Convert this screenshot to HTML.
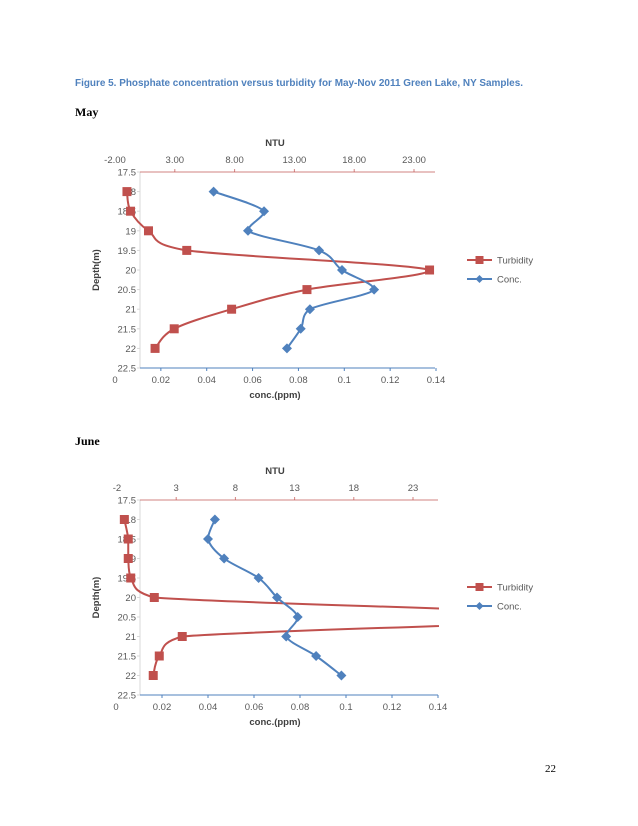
<!DOCTYPE html>
<html><head><meta charset="utf-8">
<style>
html,body{margin:0;padding:0;background:#fff;}
body{width:638px;height:826px;position:relative;overflow:hidden;}
svg{position:absolute;left:0;top:0;}
</style></head>
<body>
<svg id="page" width="638" height="826" viewBox="0 0 638 826" xmlns="http://www.w3.org/2000/svg">
  <text x="75" y="86" font-family="Liberation Sans, sans-serif" font-size="10.5" font-weight="bold" fill="#4f81bd" textLength="448" lengthAdjust="spacingAndGlyphs">Figure 5. Phosphate concentration versus turbidity for May-Nov 2011 Green Lake, NY Samples.</text>
  <text x="75" y="116" font-family="Liberation Serif, serif" font-size="12" font-weight="bold" fill="#000">May</text>
  <text x="75" y="445" font-family="Liberation Serif, serif" font-size="12" font-weight="bold" fill="#000">June</text>
  <text x="545" y="772" font-family="Liberation Serif, serif" font-size="11" fill="#000">22</text>
  <g id="chart-may"></g>
  <g id="chart-june"></g>
</svg>
<script>
// Shared axes data
const depthTicks = [17.5, 18, 18.5, 19, 19.5, 20, 20.5, 21, 21.5, 22, 22.5];
const concTicks = [0, 0.02, 0.04, 0.06, 0.08, 0.1, 0.12, 0.14];
const depths = [18, 18.5, 19, 19.5, 20, 20.5, 21, 21.5, 22];

// May
const mayConc = [0.043, 0.065, 0.058, 0.089, 0.099, 0.113, 0.085, 0.081, 0.075];
const mayTurb = [-1.0, -0.7, 0.8, 4.0, 24.3, 14.05, 7.75, 2.95, 1.35];
const mayNtuTicks = [-2, 3, 8, 13, 18, 23];
const mayNtuLabels = ["-2.00", "3.00", "8.00", "13.00", "18.00", "23.00"];

// June
const juneConc = [0.043, 0.040, 0.047, 0.062, 0.070, 0.079, 0.074, 0.087, 0.098];
const juneTurb = [-1.38, -1.05, -1.05, -0.84, 1.15, 38.5, 3.51, 1.57, 1.06];
const juneNtuTicks = [-2, 3, 8, 13, 18, 23];
const juneNtuLabels = ["-2", "3", "8", "13", "18", "23"];

const NS = "http://www.w3.org/2000/svg";
const RED = "#c0504d", BLUE = "#4f81bd", GRAY = "#595959";
function mk(tag, attrs, parent) {
  const e = document.createElementNS(NS, tag);
  for (const k in attrs) e.setAttribute(k, attrs[k]);
  parent.appendChild(e);
  return e;
}
function clampX(x, a, b) { return Math.max(Math.min(a, b), Math.min(Math.max(a, b), x)); }
function smoothPath(pts) {
  let d = "M" + pts[0][0] + "," + pts[0][1];
  for (let i = 0; i < pts.length - 1; i++) {
    const p0 = pts[i - 1] || pts[i], p1 = pts[i], p2 = pts[i + 1], p3 = pts[i + 2] || p2;
    const t = 6;
    const c1 = [clampX(p1[0] + (p2[0] - p0[0]) / t, p1[0], p2[0]), p1[1] + (p2[1] - p0[1]) / t];
    const c2 = [clampX(p2[0] - (p3[0] - p1[0]) / t, p1[0], p2[0]), p2[1] - (p3[1] - p1[1]) / t];
    d += " C" + c1[0] + "," + c1[1] + " " + c2[0] + "," + c2[1] + " " + p2[0] + "," + p2[1];
  }
  return d;
}
function drawChart(g, id, cfg, conc, turb, ntuTicks, ntuLabels) {
  const yS = v => cfg.top + (v - 17.5) / 5 * (cfg.bottom - cfg.top);
  const xC = v => cfg.c0 + v / 0.14 * (cfg.c14 - cfg.c0);
  const xN = v => cfg.n0 + (v + 2) / 5 * cfg.n5;
  const font = "Liberation Sans, sans-serif";
  const cp = mk("clipPath", {id: id + "-clip"}, g);
  mk("rect", {x: 100, y: cfg.top - 2, width: cfg.right - 100 + 1, height: cfg.bottom - cfg.top + 4}, cp);
  const ya = mk("line", {x1: cfg.axisX, y1: cfg.top, x2: cfg.axisX, y2: cfg.bottom, stroke: "#d9d9d9", "stroke-width": 1}, g);
  
  
  const xa = mk("line", {x1: cfg.axisX, y1: cfg.bottom, x2: cfg.right, y2: cfg.bottom, stroke: BLUE, "stroke-width": 1}, g);
  
  
  const ta = mk("line", {x1: cfg.axisX, y1: cfg.top, x2: cfg.right, y2: cfg.top, stroke: RED, "stroke-width": 1, opacity: 0.7}, g);
  
  
  depthTicks.forEach(v => {
    const t = mk("text", {x: cfg.axisX - 4, y: yS(v) + 3.5, "text-anchor": "end", "font-family": font, "font-size": 9.5, fill: GRAY}, g);
    t.textContent = v;
    
    
    mk("line", {x1: cfg.axisX - 3, y1: yS(v), x2: cfg.axisX, y2: yS(v), stroke: "#d9d9d9"}, g);
  });
  concTicks.forEach(v => {
    const t = mk("text", {x: xC(v), y: cfg.bottom + 15, "text-anchor": "middle", "font-family": font, "font-size": 9.5, fill: GRAY}, g);
    t.textContent = v;
    
    
    if (xC(v) >= cfg.axisX) mk("line", {x1: xC(v), y1: cfg.bottom, x2: xC(v), y2: cfg.bottom + 3, stroke: BLUE}, g);
  });
  ntuTicks.forEach((v, i) => {
    const t = mk("text", {x: xN(v), y: cfg.top - 9, "text-anchor": "middle", "font-family": font, "font-size": 9.5, fill: GRAY}, g);
    t.textContent = ntuLabels[i];
    
    
    if (xN(v) >= cfg.axisX) mk("line", {x1: xN(v), y1: cfg.top, x2: xN(v), y2: cfg.top - 3, stroke: RED, opacity: 0.7}, g);
  });
  const nt = mk("text", {x: cfg.axisX + 135, y: cfg.top - 26, "text-anchor": "middle", "font-family": font, "font-size": 9.5, "font-weight": "bold", fill: "#404040"}, g);
  nt.textContent = "NTU";
  
  
  const ct = mk("text", {x: cfg.axisX + 135, y: cfg.bottom + 30, "text-anchor": "middle", "font-family": font, "font-size": 9.5, "font-weight": "bold", fill: "#404040"}, g);
  ct.textContent = "conc.(ppm)";
  
  
  const dy = (cfg.top + cfg.bottom) / 2;
  const dt = mk("text", {x: 99, y: dy, "text-anchor": "middle", "font-family": font, "font-size": 9.5, "font-weight": "bold", fill: "#404040", transform: "rotate(-90 99 " + dy + ")"}, g);
  dt.textContent = "Depth(m)";
  
  
  const tp = depths.map((d, i) => [xN(turb[i]), yS(d)]);
  const tl = mk("path", {d: smoothPath(tp), fill: "none", stroke: RED, "stroke-width": 2, "clip-path": "url(#" + id + "-clip)"}, g);
  
  
  tp.forEach(p => {
    if (p[0] > cfg.right) return;
    const r = mk("rect", {x: p[0] - 4.5, y: p[1] - 4.5, width: 9, height: 9, fill: RED}, g);
    
    
  });
  const cpnts = depths.map((d, i) => [xC(conc[i]), yS(d)]);
  const cl = mk("path", {d: smoothPath(cpnts), fill: "none", stroke: BLUE, "stroke-width": 2}, g);
  
  
  cpnts.forEach(p => {
    const m = mk("path", {d: "M" + p[0] + "," + (p[1] - 5) + " l5,5 l-5,5 l-5,-5z", fill: BLUE}, g);
    
    
  });
  const ly = cfg.legendY;
  const l1 = mk("line", {x1: 467, y1: ly, x2: 492, y2: ly, stroke: RED, "stroke-width": 2}, g);
  
  
  mk("rect", {x: 475.5, y: ly - 4, width: 8, height: 8, fill: RED}, g);
  const lt1 = mk("text", {x: 497, y: ly + 3.5, "font-family": font, "font-size": 9.5, fill: GRAY}, g);
  lt1.textContent = "Turbidity";
  
  
  const l2 = mk("line", {x1: 467, y1: ly + 19, x2: 492, y2: ly + 19, stroke: BLUE, "stroke-width": 2}, g);
  
  
  mk("path", {d: "M479.5," + (ly + 15) + " l4,4 l-4,4 l-4,-4z", fill: BLUE}, g);
  const lt2 = mk("text", {x: 497, y: ly + 22.5, "font-family": font, "font-size": 9.5, fill: GRAY}, g);
  lt2.textContent = "Conc.";
  
  
}
drawChart(document.getElementById("chart-may"), "may",
  {axisX: 140, right: 435, top: 172, bottom: 368, c0: 115, c14: 436, n0: 115, n5: 59.8, legendY: 260},
  mayConc, mayTurb, mayNtuTicks, mayNtuLabels);
drawChart(document.getElementById("chart-june"), "june",
  {axisX: 140, right: 438, top: 500, bottom: 695, c0: 116, c14: 438, n0: 117, n5: 59.2, legendY: 587},
  juneConc, juneTurb, juneNtuTicks, juneNtuLabels);
</script>
</body></html>
